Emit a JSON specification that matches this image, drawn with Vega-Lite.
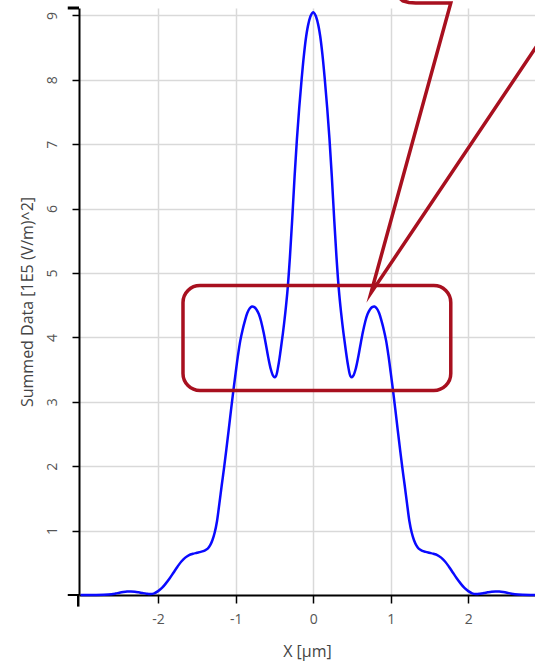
{
  "$schema": "https://vega.github.io/schema/vega-lite/v6.json",
  "width": 456,
  "height": 587,
  "autosize": {"type": "none"},
  "padding": {"left": 79, "top": 8, "right": 0, "bottom": 67},
  "background": "white",
  "config": {
    "view": {"stroke": null},
    "font": "Open Sans",
    "axis": {
      "gridColor": "#d9d9d9",
      "gridWidth": 1.5,
      "domainColor": "#000000",
      "domainWidth": 2,
      "tickColor": "#000000",
      "tickWidth": 1.5,
      "tickSize": 8,
      "labelFont": "Open Sans",
      "labelFontSize": 14,
      "labelColor": "#555555",
      "titleFont": "Open Sans",
      "titleFontSize": 16,
      "titleFontWeight": "normal",
      "titleColor": "#444444"
    }
  },
  "datasets": {
    "curve": [
      {"x": -3.0, "y": 0.0}, {"x": -2.86, "y": 0.0}, {"x": -2.8, "y": 0.0}, {"x": -2.7, "y": 0.003},
      {"x": -2.6, "y": 0.012}, {"x": -2.55, "y": 0.022}, {"x": -2.5, "y": 0.035}, {"x": -2.45, "y": 0.046},
      {"x": -2.4, "y": 0.054}, {"x": -2.35, "y": 0.056}, {"x": -2.3, "y": 0.052}, {"x": -2.25, "y": 0.042},
      {"x": -2.2, "y": 0.03}, {"x": -2.15, "y": 0.02}, {"x": -2.1, "y": 0.015}, {"x": -2.05, "y": 0.025},
      {"x": -2.0, "y": 0.06}, {"x": -1.95, "y": 0.11}, {"x": -1.9, "y": 0.18}, {"x": -1.85, "y": 0.26},
      {"x": -1.8, "y": 0.35}, {"x": -1.75, "y": 0.44}, {"x": -1.7, "y": 0.52}, {"x": -1.65, "y": 0.58},
      {"x": -1.6, "y": 0.62}, {"x": -1.55, "y": 0.64}, {"x": -1.5, "y": 0.655}, {"x": -1.45, "y": 0.67},
      {"x": -1.4, "y": 0.69}, {"x": -1.36, "y": 0.72}, {"x": -1.33, "y": 0.77}, {"x": -1.3, "y": 0.85},
      {"x": -1.27, "y": 0.97}, {"x": -1.24, "y": 1.15}, {"x": -1.21, "y": 1.42}, {"x": -1.18, "y": 1.7},
      {"x": -1.15, "y": 1.97}, {"x": -1.12, "y": 2.26}, {"x": -1.09, "y": 2.56}, {"x": -1.06, "y": 2.87},
      {"x": -1.03, "y": 3.17}, {"x": -1.0, "y": 3.45}, {"x": -0.97, "y": 3.72}, {"x": -0.94, "y": 3.95},
      {"x": -0.91, "y": 4.12}, {"x": -0.88, "y": 4.26}, {"x": -0.85, "y": 4.38}, {"x": -0.82, "y": 4.45},
      {"x": -0.79, "y": 4.48}, {"x": -0.76, "y": 4.47}, {"x": -0.73, "y": 4.43}, {"x": -0.7, "y": 4.36},
      {"x": -0.67, "y": 4.24}, {"x": -0.64, "y": 4.08}, {"x": -0.61, "y": 3.89}, {"x": -0.58, "y": 3.69},
      {"x": -0.55, "y": 3.52}, {"x": -0.52, "y": 3.41}, {"x": -0.5, "y": 3.38}, {"x": -0.48, "y": 3.4},
      {"x": -0.45, "y": 3.56}, {"x": -0.42, "y": 3.8}, {"x": -0.39, "y": 4.07}, {"x": -0.36, "y": 4.38},
      {"x": -0.33, "y": 4.75}, {"x": -0.3, "y": 5.25}, {"x": -0.27, "y": 5.85}, {"x": -0.24, "y": 6.5},
      {"x": -0.21, "y": 7.08}, {"x": -0.18, "y": 7.57}, {"x": -0.15, "y": 8.0}, {"x": -0.12, "y": 8.38},
      {"x": -0.09, "y": 8.68}, {"x": -0.06, "y": 8.88}, {"x": -0.03, "y": 9.0}, {"x": 0.0, "y": 9.05},
      {"x": 0.03, "y": 9.0}, {"x": 0.06, "y": 8.88}, {"x": 0.09, "y": 8.68}, {"x": 0.12, "y": 8.38},
      {"x": 0.15, "y": 8.0}, {"x": 0.18, "y": 7.57}, {"x": 0.21, "y": 7.08}, {"x": 0.24, "y": 6.5},
      {"x": 0.27, "y": 5.85}, {"x": 0.3, "y": 5.25}, {"x": 0.33, "y": 4.75}, {"x": 0.36, "y": 4.38},
      {"x": 0.39, "y": 4.07}, {"x": 0.42, "y": 3.8}, {"x": 0.45, "y": 3.56}, {"x": 0.48, "y": 3.4},
      {"x": 0.5, "y": 3.38}, {"x": 0.52, "y": 3.41}, {"x": 0.55, "y": 3.52}, {"x": 0.58, "y": 3.69},
      {"x": 0.61, "y": 3.89}, {"x": 0.64, "y": 4.08}, {"x": 0.67, "y": 4.24}, {"x": 0.7, "y": 4.36},
      {"x": 0.73, "y": 4.43}, {"x": 0.76, "y": 4.47}, {"x": 0.79, "y": 4.48}, {"x": 0.82, "y": 4.45},
      {"x": 0.85, "y": 4.38}, {"x": 0.88, "y": 4.26}, {"x": 0.91, "y": 4.12}, {"x": 0.94, "y": 3.95},
      {"x": 0.97, "y": 3.72}, {"x": 1.0, "y": 3.45}, {"x": 1.03, "y": 3.17}, {"x": 1.06, "y": 2.87},
      {"x": 1.09, "y": 2.56}, {"x": 1.12, "y": 2.26}, {"x": 1.15, "y": 1.97}, {"x": 1.18, "y": 1.7},
      {"x": 1.21, "y": 1.42}, {"x": 1.24, "y": 1.15}, {"x": 1.27, "y": 0.97}, {"x": 1.3, "y": 0.85},
      {"x": 1.33, "y": 0.77}, {"x": 1.36, "y": 0.72}, {"x": 1.4, "y": 0.69}, {"x": 1.45, "y": 0.67},
      {"x": 1.5, "y": 0.655}, {"x": 1.55, "y": 0.64}, {"x": 1.6, "y": 0.62}, {"x": 1.65, "y": 0.58},
      {"x": 1.7, "y": 0.52}, {"x": 1.75, "y": 0.44}, {"x": 1.8, "y": 0.35}, {"x": 1.85, "y": 0.26},
      {"x": 1.9, "y": 0.18}, {"x": 1.95, "y": 0.11}, {"x": 2.0, "y": 0.06}, {"x": 2.05, "y": 0.025},
      {"x": 2.1, "y": 0.015}, {"x": 2.15, "y": 0.02}, {"x": 2.2, "y": 0.03}, {"x": 2.25, "y": 0.042},
      {"x": 2.3, "y": 0.052}, {"x": 2.35, "y": 0.056}, {"x": 2.4, "y": 0.054}, {"x": 2.45, "y": 0.046},
      {"x": 2.5, "y": 0.035}, {"x": 2.55, "y": 0.022}, {"x": 2.6, "y": 0.012}, {"x": 2.7, "y": 0.003},
      {"x": 2.8, "y": 0.0}, {"x": 2.86, "y": 0.0}
    ],
    "box": [
      {"x1": -1.679, "x2": 1.774, "y1": 3.177, "y2": 4.807}
    ],
    "tail": [
      {"i": 1, "x": 1.079, "y": 9.39},
      {"i": 2, "x": 1.104, "y": 9.28},
      {"i": 3, "x": 1.156, "y": 9.225},
      {"i": 4, "x": 1.233, "y": 9.202},
      {"i": 5, "x": 1.323, "y": 9.194},
      {"i": 6, "x": 1.774, "y": 9.194},
      {"i": 7, "x": 0.745, "y": 4.69},
      {"i": 8, "x": 3.256, "y": 9.194}
    ],
    "axisbits": [
      {"x1": -3.165, "x2": -3.02, "y1": 0, "y2": 0, "w": 2},
      {"x1": -3.165, "x2": -3.02, "y1": 9.115, "y2": 9.115, "w": 3},
      {"x1": -3.03, "x2": -3.03, "y1": 0, "y2": -0.18, "w": 2.5}
    ]
  },
  "layer": [
    {
      "data": {"name": "curve"},
      "mark": {"type": "line", "color": "#0a0aff", "strokeWidth": 2.5, "interpolate": "catmull-rom", "clip": false},
      "encoding": {
        "x": {
          "field": "x", "type": "quantitative",
          "scale": {"domain": [-3.02, 2.86], "nice": false, "zero": false},
          "axis": {
            "values": [-2, -1, 0, 1, 2],
            "labelExpr": "'' + datum.value",
            "title": "X [µm]",
            "labelPadding": 9,
            "titlePadding": 17,
            "grid": true
          }
        },
        "y": {
          "field": "y", "type": "quantitative",
          "scale": {"domain": [0, 9.115], "nice": false},
          "axis": {
            "values": [1, 2, 3, 4, 5, 6, 7, 8, 9],
            "labelExpr": "'' + datum.value",
            "title": "Summed Data [1E5 (V/m)^2]",
            "labelAngle": -90,
            "labelAlign": "center",
            "labelBaseline": "alphabetic",
            "labelPadding": 16,
            "titlePadding": 10,
            "tickSize": 7,
            "grid": true
          }
        }
      }
    },
    {
      "data": {"name": "box"},
      "mark": {"type": "rect", "filled": false, "fill": null, "stroke": "#a8101f", "strokeWidth": 3.5, "cornerRadius": 17, "clip": false},
      "encoding": {
        "x": {"field": "x1", "type": "quantitative"},
        "x2": {"field": "x2"},
        "y": {"field": "y1", "type": "quantitative"},
        "y2": {"field": "y2"}
      }
    },
    {
      "data": {"name": "tail"},
      "mark": {"type": "line", "color": "#a8101f", "strokeWidth": 3.5, "strokeJoin": "miter", "strokeMiterLimit": 20, "clip": false},
      "encoding": {
        "x": {"field": "x", "type": "quantitative"},
        "y": {"field": "y", "type": "quantitative"},
        "order": {"field": "i", "type": "quantitative"}
      }
    },
    {
      "data": {"name": "axisbits"},
      "mark": {"type": "rule", "color": "#000000", "clip": false},
      "encoding": {
        "x": {"field": "x1", "type": "quantitative"},
        "x2": {"field": "x2"},
        "y": {"field": "y1", "type": "quantitative"},
        "y2": {"field": "y2"},
        "strokeWidth": {"field": "w", "type": "quantitative", "scale": null}
      }
    }
  ]
}
